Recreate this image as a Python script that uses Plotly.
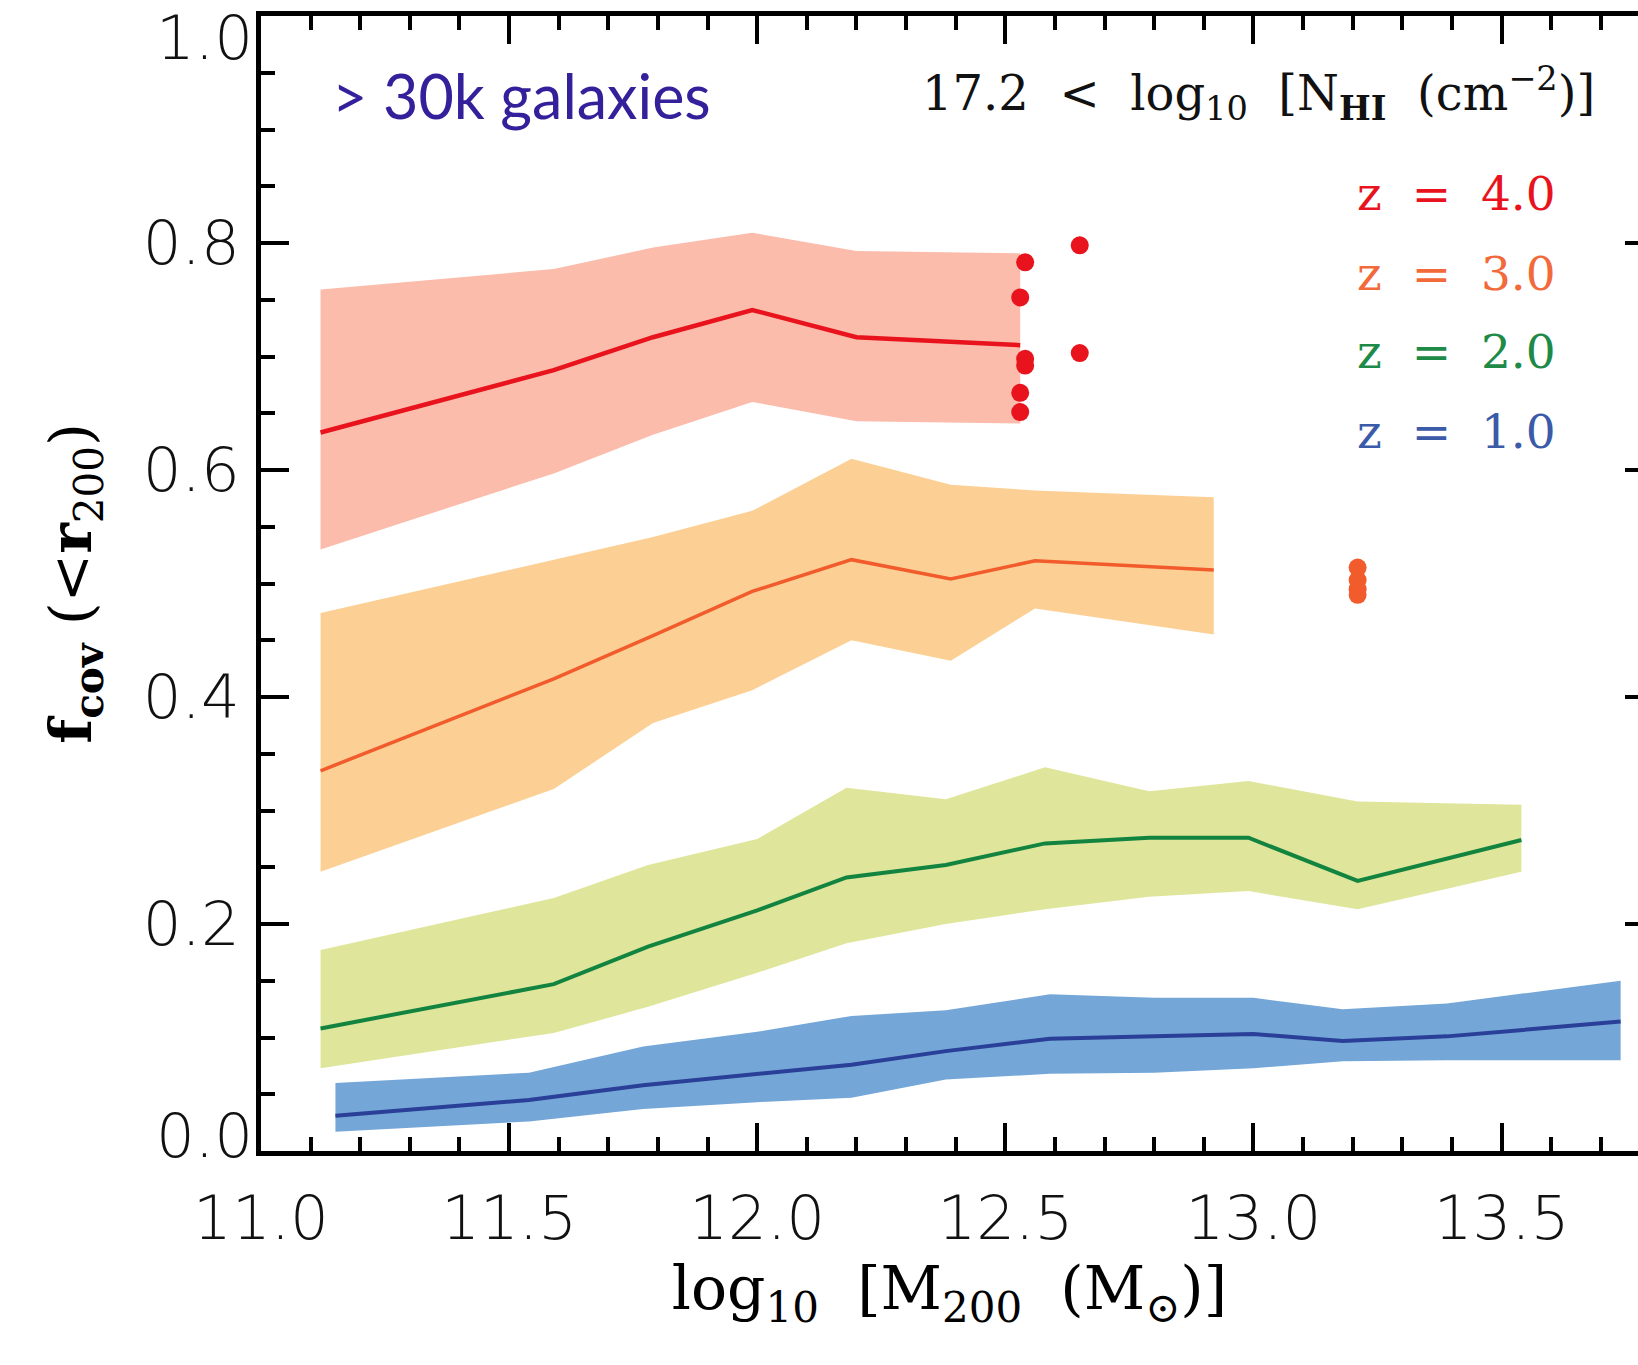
import plotly.graph_objects as go

# ---------------- data ----------------
x_z4 = [11.12, 11.59, 11.79, 11.99, 12.20, 12.53]
med_z4 = [0.633, 0.688, 0.717, 0.741, 0.717, 0.710]
hi_z4 = [0.759, 0.777, 0.796, 0.809, 0.793, 0.791]
lo_z4 = [0.530, 0.597, 0.631, 0.660, 0.643, 0.641]
dots_x_z4 = [12.54, 12.53, 12.54, 12.54, 12.53, 12.53, 12.65, 12.65]
dots_y_z4 = [0.783, 0.752, 0.698, 0.692, 0.668, 0.651, 0.798, 0.703]

x_z3 = [11.12, 11.59, 11.79, 11.99, 12.19, 12.39, 12.56, 12.92]
med_z3 = [0.335, 0.416, 0.454, 0.493, 0.521, 0.504, 0.520, 0.512]
hi_z3 = [0.474, 0.521, 0.541, 0.564, 0.610, 0.587, 0.582, 0.576]
lo_z3 = [0.246, 0.319, 0.377, 0.406, 0.450, 0.432, 0.478, 0.455]
dots_x_z3 = [13.21, 13.21, 13.21, 13.21]
dots_y_z3 = [0.514, 0.503, 0.495, 0.490]

x_z2 = [11.12, 11.59, 11.78, 12.00, 12.18, 12.38, 12.58, 12.79, 12.99, 13.21, 13.54]
med_z2 = [0.108, 0.147, 0.180, 0.212, 0.241, 0.252, 0.271, 0.276, 0.276, 0.238, 0.274]
hi_z2 = [0.177, 0.223, 0.252, 0.275, 0.320, 0.310, 0.338, 0.317, 0.326, 0.308, 0.305]
lo_z2 = [0.073, 0.104, 0.127, 0.157, 0.183, 0.200, 0.213, 0.224, 0.229, 0.213, 0.246]

x_z1 = [11.15, 11.54, 11.77, 12.00, 12.19, 12.38, 12.59, 12.80, 13.00, 13.18, 13.39, 13.74]
med_z1 = [0.031, 0.045, 0.058, 0.068, 0.076, 0.088, 0.099, 0.101, 0.103, 0.097, 0.101, 0.114]
hi_z1 = [0.060, 0.069, 0.092, 0.105, 0.119, 0.124, 0.138, 0.135, 0.135, 0.125, 0.130, 0.150]
lo_z1 = [0.017, 0.026, 0.037, 0.043, 0.047, 0.063, 0.068, 0.069, 0.073, 0.079, 0.080, 0.080]

x_tickvals = [11.0, 11.5, 12.0, 12.5, 13.0, 13.5]
x_ticktext = ["11.0", "11.5", "12.0", "12.5", "13.0", "13.5"]
y_tickvals = [0.0, 0.2, 0.4, 0.6, 0.8, 1.0]
y_ticktext = ["", "0.2", "0.4", "0.6", "0.8", ""]
y_end_labels = [(0.0, "0.0"), (1.0, "1.0")]

legend_labels = ["z &nbsp;= &nbsp;4.0", "z &nbsp;= &nbsp;3.0", "z &nbsp;= &nbsp;2.0", "z &nbsp;= &nbsp;1.0"]

# ---------------- styles ----------------
series = [
    (x_z1, med_z1, hi_z1, lo_z1, "#2a3f98", "#74a6d8", 4.0),
    (x_z2, med_z2, hi_z2, lo_z2, "#138440", "#dfe69b", 4.0),
    (x_z3, med_z3, hi_z3, lo_z3, "#f25b2c", "#fcd094", 3.5),
    (x_z4, med_z4, hi_z4, lo_z4, "#e8131c", "#fbbcab", 4.5),
]
text_colors = ["#e8131c", "#f26a3a", "#1d8a48", "#3b5aa8"]

fig = go.Figure()
for xs, med, hi, lo, lc, fc, lw in series:
    fig.add_trace(go.Scatter(x=xs + xs[::-1], y=hi + lo[::-1], fill="toself",
                             fillcolor=fc, line=dict(width=0), mode="lines",
                             hoverinfo="skip", showlegend=False))
for xs, med, hi, lo, lc, fc, lw in series:
    fig.add_trace(go.Scatter(x=xs, y=med, mode="lines", line=dict(color=lc, width=lw),
                             showlegend=False))

fig.add_trace(go.Scatter(x=dots_x_z4, y=dots_y_z4, mode="markers",
                         marker=dict(color="#e8131c", size=18), showlegend=False))
fig.add_trace(go.Scatter(x=dots_x_z3, y=dots_y_z3, mode="markers",
                         marker=dict(color="#f25b2c", size=18), showlegend=False))

# right-side tick stubs (visible part of the cropped right axis)
fig.add_trace(go.Scatter(x=[None], y=[None], yaxis="y2", showlegend=False))

tick_font = dict(family="DejaVu Sans, Open Sans, sans-serif", size=61, color="#111111", weight=200)
serif = "DejaVu Serif, Liberation Serif, serif"

fig.update_layout(
    width=1638, height=1365,
    margin=dict(l=261, r=0, t=16, b=214),
    paper_bgcolor="white", plot_bgcolor="white",
    xaxis=dict(range=[11.0, 13.775], tickvals=x_tickvals, ticktext=x_ticktext,
               ticks="inside", ticklen=28, tickwidth=4, tickcolor="black",
               showline=True, linewidth=5, linecolor="black", mirror="ticks",
               showgrid=False, zeroline=False, tickfont=tick_font,
               ticklabelstandoff=10,
               minor=dict(dtick=0.1, tick0=11.0, ticks="inside", ticklen=14,
                          tickwidth=4, tickcolor="black", showgrid=False),
               title=dict(text="log<sub>10</sub> &nbsp;[M<sub>200</sub> &nbsp;(M<sub>⊙</sub>)]",
                          font=dict(family=serif, size=60, color="black"),
                          standoff=12)),
    yaxis=dict(range=[0.0, 1.0], tickvals=y_tickvals, ticktext=y_ticktext,
               ticks="inside", ticklen=28, tickwidth=4, tickcolor="black",
               showline=True, linewidth=5, linecolor="black", mirror=False,
               showgrid=False, zeroline=False, tickfont=tick_font,
               ticklabelstandoff=4,
               minor=dict(dtick=0.05, tick0=0.0, ticks="inside", ticklen=14,
                          tickwidth=4, tickcolor="black", showgrid=False),
               title=dict(text="<b>f<sub>cov</sub></b> (&lt;<b>r</b><sub>200</sub>)",
                          font=dict(family=serif, size=58, color="black"),
                          standoff=34)),
    yaxis2=dict(range=[0.0, 1.0], overlaying="y", side="right", showline=False,
                tickvals=[0.2, 0.4, 0.6, 0.8], ticks="inside", ticklen=13,
                tickwidth=4, tickcolor="black", showticklabels=False,
                showgrid=False, zeroline=False),
)

for val, txt in y_end_labels:
    fig.add_annotation(x=0, xref="paper", y=val, yref="y", text=txt, showarrow=False,
                       xanchor="right", yanchor="bottom" if val == 0.0 else "top",
                       xshift=-6, yshift=-22 if val == 0.0 else 16, font=tick_font)

fig.add_annotation(x=0.05, xref="paper", y=0.93, yref="y", text="&gt; 30k galaxies",
                   showarrow=False, xanchor="left", yanchor="middle",
                   font=dict(family="Lato, Open Sans, sans-serif", size=61, color="#34209a"))

fig.add_annotation(x=0.97, xref="paper", y=0.932, yref="y",
                   text="17.2 &nbsp;&lt; &nbsp;log<sub>10</sub> &nbsp;[N<sub><b>HI</b></sub> &nbsp;(cm<sup>−2</sup>)]",
                   showarrow=False, xanchor="right", yanchor="middle",
                   font=dict(family=serif, size=48, color="#111111"))

legend_y = [0.844, 0.773, 0.704, 0.634]
for txt, col, yy in zip(legend_labels, text_colors, legend_y):
    fig.add_annotation(x=0.942, xref="paper", y=yy, yref="y", text=txt, showarrow=False,
                       xanchor="right", yanchor="middle",
                       font=dict(family=serif, size=47, color=col))

fig.write_html("out.html")
